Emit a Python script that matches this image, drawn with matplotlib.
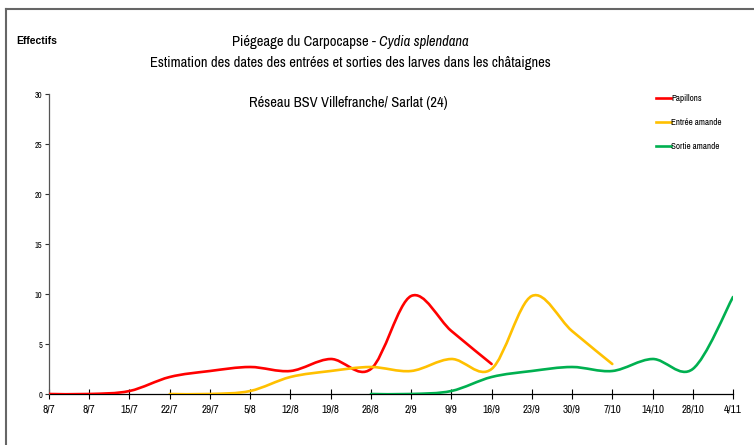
import matplotlib
matplotlib.use("Agg")
import matplotlib.pyplot as plt
from matplotlib.path import Path
from matplotlib.patches import PathPatch
from matplotlib.lines import Line2D
import numpy as np

plt.rcParams['font.family'] = ['Archivo Narrow', 'Roboto Condensed', 'DejaVu Sans']

dates = ["8/7", "8/7", "15/7", "22/7", "29/7", "5/8", "12/8", "19/8", "26/8",
         "2/9", "9/9", "16/9", "23/9", "30/9", "7/10", "14/10", "28/10", "4/11"]

# series: (first index, values)
papillons_start = 0
papillons = [0, 0, 0.3, 1.7, 2.3, 2.7, 2.3, 3.5, 2.5, 9.8, 6.3, 3.0]
entree_start = 3
entree = [0, 0, 0.3, 1.7, 2.3, 2.7, 2.3, 3.5, 2.5, 9.8, 6.3, 3.0]
sortie_start = 8
sortie = [0, 0, 0.3, 1.7, 2.3, 2.7, 2.3, 3.5, 2.5, 9.7]

series = [
    ("Papillons", papillons_start, papillons, "#ff0000"),
    ("Entrée amande", entree_start, entree, "#ffc000"),
    ("Sortie amande", sortie_start, sortie, "#00b050"),
]


def smooth_path(x, y):
    """
    Excel-like smoothed line as cubic bezier segments (catmull-rom)
    """
    pts = np.column_stack([x, y]).astype(float)
    n = len(pts)
    verts = [pts[0]]
    codes = [Path.MOVETO]
    for i in range(n - 1):
        p0 = pts[i - 1] if i > 0 else pts[i]
        p1 = pts[i]
        p2 = pts[i + 1]
        p3 = pts[i + 2] if i + 2 < n else pts[i + 1]
        c1 = p1 + (p2 - p0) / 6.0
        c2 = p2 - (p3 - p1) / 6.0
        verts += [c1, c2, p2]
        codes += [Path.CURVE4] * 3
    return Path(verts, codes)


fig = plt.figure(figsize=(7.54, 4.45), dpi=100)
ax = fig.add_axes([49 / 754, 1 - 394 / 445, (733 - 49) / 754, 300 / 445])

handles = []
for name, start, vals, col in series:
    x = np.arange(start, start + len(vals))
    p = PathPatch(smooth_path(x, vals), fill=False, edgecolor=col, lw=1.9,
                  capstyle='round', joinstyle='round', zorder=3)
    ax.add_patch(p)
    handles.append(Line2D([], [], color=col, lw=1.9))

ax.set_xlim(0, len(dates) - 1)
ax.set_ylim(0, 30)
ax.set_xticks(range(len(dates)))
ax.set_xticklabels(dates, fontsize=8)
ax.set_yticks(range(0, 31, 5))
ax.tick_params(axis='y', labelsize=6, length=3, width=0.8, pad=2, color='#333333')
ax.tick_params(axis='x', direction='inout', length=7, width=0.8, pad=4)
for s in ['top', 'right']:
    ax.spines[s].set_visible(False)
ax.spines['left'].set_color('#555555')
ax.spines['left'].set_linewidth(0.9)
ax.spines['bottom'].set_linewidth(0.9)
ax.spines['bottom'].set_zorder(2)

fig.text(16 / 754, 1 - 41 / 445, "Effectifs", fontsize=7.5, fontweight='bold',
         family=['Liberation Sans', 'DejaVu Sans'], va='center')

# first title line: normal part + italic species name, centred together
fs = 10.5
t1 = fig.text(0, 1 - 42 / 445, "Piégeage du Carpocapse - ", fontsize=fs, va='center')
t2 = fig.text(0, 1 - 42 / 445, "Cydia splendana", fontsize=fs, style='italic', va='center')
fig.canvas.draw()
r = fig.canvas.get_renderer()
w1 = t1.get_window_extent(r).width
w2 = t2.get_window_extent(r).width
x0 = 350 - (w1 + w2) / 2
t1.set_x(x0 / 754)
t2.set_x((x0 + w1) / 754)

fig.text(350 / 754, 1 - 63 / 445,
         "Estimation des dates des entrées et sorties des larves dans les châtaignes",
         fontsize=fs, ha='center', va='center')
fig.text(348 / 754, 1 - 103 / 445, "Réseau BSV Villefranche/ Sarlat (24)",
         fontsize=fs, ha='center', va='center')

fig.legend(handles, [s[0] for s in series], loc='upper left',
           bbox_to_anchor=(648 / 754, 1 - 86 / 445), frameon=False, fontsize=6.5,
           handlelength=1.6, handletextpad=0.1, labelspacing=1.65)

# outer frame of the original sheet
fig.add_artist(Line2D([6 / 754, 6 / 754], [0, 1 - 9 / 445], transform=fig.transFigure,
                      color='#666666', lw=1.5))
fig.add_artist(Line2D([6 / 754, 1], [1 - 9 / 445, 1 - 9 / 445], transform=fig.transFigure,
                      color='#666666', lw=1.5))

plt.savefig("out.png", dpi=100)
